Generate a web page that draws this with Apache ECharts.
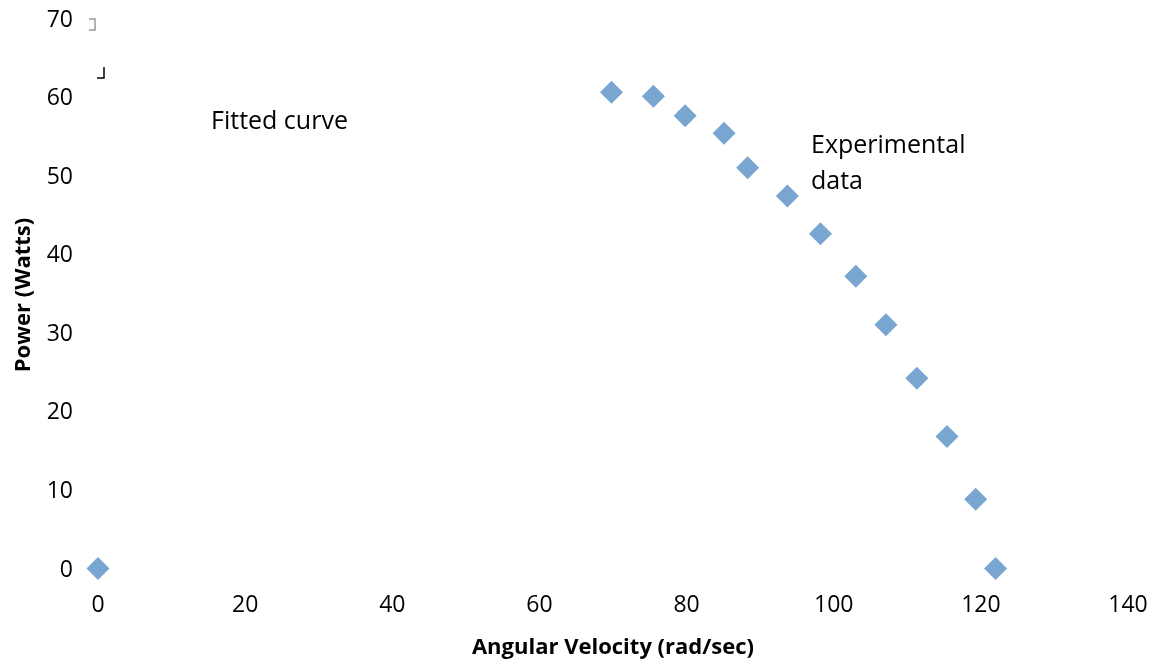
<!DOCTYPE html>
<html><head><meta charset="utf-8">
<script src="https://cdn.jsdelivr.net/npm/echarts@6/dist/echarts.min.js"></script>
<style>html,body{margin:0;padding:0;background:#fff}#c{width:1155px;height:665px}</style>
</head><body><div id="c"></div>
<script>
const angularVelocity = [0, 69.8, 75.5, 79.8, 85.1, 88.3, 93.7, 98.2, 103.0, 107.1, 111.3, 115.4, 119.3, 122.0];
const powerWatts      = [0.2, 60.8, 60.3, 57.8, 55.6, 51.2, 47.6, 42.8, 37.4, 31.2, 24.4, 17.0, 9.0, 0.2];
const xTicks = [0, 20, 40, 60, 80, 100, 120, 140];
const yTicks = [0, 10, 20, 30, 40, 50, 60, 70];
const annotations = ["Fitted curve", "Experimental\ndata"];

const FONT = '"Open Sans", "Noto Sans", sans-serif';
const chart = echarts.init(document.getElementById('c'), null, {renderer: 'canvas'});
chart.setOption({
  animation: false,
  backgroundColor: '#fff',
  grid: {left: 98, right: 27, top: 20, bottom: 95, containLabel: false, outerBoundsMode: 'none'},
  xAxis: {
    type: 'value', min: xTicks[0], max: xTicks[xTicks.length-1], interval: 20,
    name: 'Angular Velocity (rad/sec)', nameLocation: 'middle', nameGap: 67,
    nameTextStyle: {fontFamily: FONT, fontWeight: 'bold', fontSize: 22, color: '#000'},
    axisLine: {show: false}, axisTick: {show: false}, splitLine: {show: false},
    axisLabel: {fontFamily: FONT, fontSize: 23, color: '#000', margin: 24}
  },
  yAxis: {
    type: 'value', min: yTicks[0], max: yTicks[yTicks.length-1], interval: 10,
    name: 'Power (Watts)', nameLocation: 'middle', nameGap: 63,
    nameTextStyle: {fontFamily: FONT, fontWeight: 'bold', fontSize: 22, color: '#000'},
    axisLine: {show: false}, axisTick: {show: false}, splitLine: {show: false},
    axisLabel: {fontFamily: FONT, fontSize: 23, color: '#000', margin: 25}
  },
  series: [{
    type: 'scatter',
    data: angularVelocity.map((x, i) => [x, powerWatts[i]]),
    symbol: 'diamond', symbolSize: [23, 23],
    itemStyle: {color: '#5890c6'}
  }],
  graphic: [
    {type: 'text', left: 211, top: 109, style: {text: annotations[0], fontFamily: FONT, fontSize: 25, fill: '#000'}},
    {type: 'text', left: 811, top: 128, style: {text: annotations[1], fontFamily: FONT, fontSize: 25, lineHeight: 36, fill: '#000'}},
    {type: 'polyline', shape: {points: [[89,19],[95,19],[95,30],[89,30]]}, style: {stroke: '#999', lineWidth: 1.5, fill: null}},
    {type: 'polyline', shape: {points: [[104,67],[104,78],[97,78]]}, style: {stroke: '#000', lineWidth: 1.5, fill: null}}
  ]
});
</script></body></html>
